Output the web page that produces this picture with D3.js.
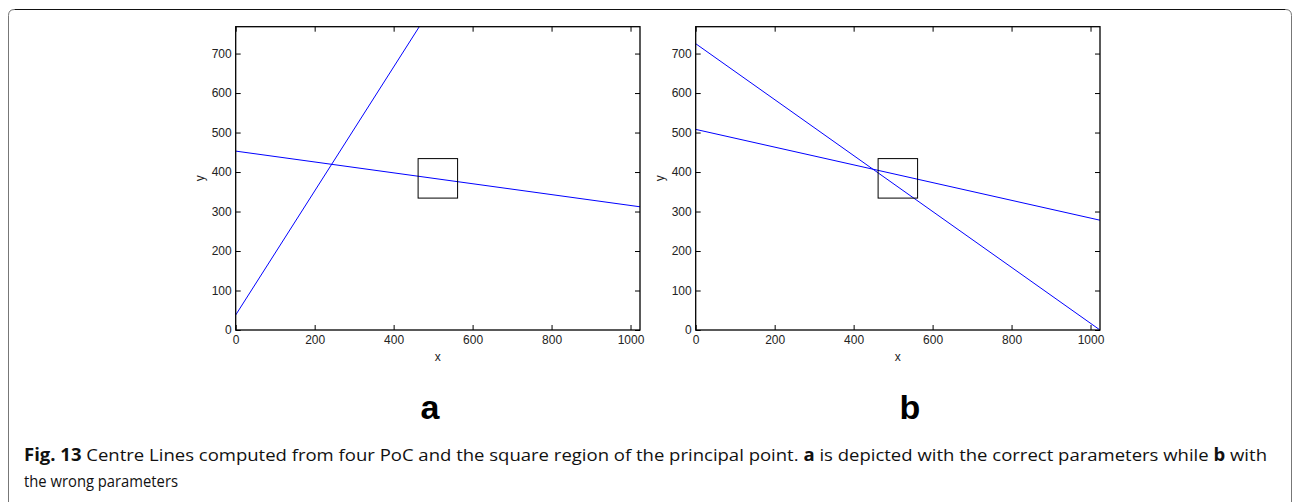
<!DOCTYPE html>
<html>
<head>
<meta charset="utf-8">
<script src="https://cdn.jsdelivr.net/npm/d3@7"></script>
<style>
  body { margin: 0; background: #fff; }
  svg { display: block; }
  .tick text { font-family: 'Liberation Sans', Arial, sans-serif; font-size: 12px; fill: #222; }
</style>
</head>
<body>
<svg id="fig" width="1294" height="502"></svg>
<script>
// image extent and ticks
const xDomain = [0, 1024];
const yDomain = [0, 768];
const xTicks = [0, 200, 400, 600, 800, 1000];
const yTicks = [0, 100, 200, 300, 400, 500, 600, 700];

// centre lines, as [x, y] end points in image pixels
const linesA = [
  [[0, 38], [465, 768]],
  [[0, 453], [1024, 312]]
];
const linesB = [
  [[0, 725], [1024, 0]],
  [[0, 508], [1024, 278]]
];
// square region of principal point: [x0, y0, x1, y1]
const square = [462, 334, 562, 434];

const panelLabels = ['a', 'b'];

const svg = d3.select('#fig');
const W = 1294, H = 502;

// figure frame with rounded top corners
const r = 6, fx0 = 8.5, fx1 = 1291.5, fy0 = 9.5;
svg.append('path')
  .attr('d', `M${fx0},${H} L${fx0},${fy0 + r} Q${fx0},${fy0} ${fx0 + r},${fy0}`)
  .attr('fill', 'none').attr('stroke', '#777').attr('stroke-width', 1);
svg.append('path')
  .attr('d', `M${fx1},${H} L${fx1},${fy0 + r} Q${fx1},${fy0} ${fx1 - r},${fy0}`)
  .attr('fill', 'none').attr('stroke', '#777').attr('stroke-width', 1);
svg.append('line')
  .attr('x1', fx0 + r).attr('x2', fx1 - r).attr('y1', fy0).attr('y2', fy0)
  .attr('stroke', '#111').attr('stroke-width', 1.2);

const panels = [
  { left: 235.7, lines: linesA, label: panelLabels[0], labelX: 430 },
  { left: 695.7, lines: linesB, label: panelLabels[1], labelX: 910 }
];
const plotTop = 26.7, plotBottom = 330, pw = 404.3;
const fmt = d3.format('d');

panels.forEach(p => {
  const x = d3.scaleLinear().domain(xDomain).range([p.left, p.left + pw]);
  const y = d3.scaleLinear().domain(yDomain).range([plotBottom, plotTop]);
  const g = svg.append('g');

  const clipId = 'clip' + p.label;
  svg.append('clipPath').attr('id', clipId)
    .append('rect').attr('x', x(0)).attr('y', plotTop).attr('width', pw).attr('height', plotBottom - plotTop);

  const plot = g.append('g').attr('clip-path', `url(#${clipId})`);
  const line = d3.line().x(d => x(d[0])).y(d => y(d[1]));
  plot.selectAll('path.cl').data(p.lines).join('path')
    .attr('class', 'cl')
    .attr('d', line)
    .attr('fill', 'none').attr('stroke', '#0000ff').attr('stroke-width', 1);

  plot.append('rect')
    .attr('x', x(square[0])).attr('y', y(square[3]))
    .attr('width', x(square[2]) - x(square[0]))
    .attr('height', y(square[1]) - y(square[3]))
    .attr('fill', 'none').attr('stroke', '#000').attr('stroke-width', 1);

  const tk = 5;
  const styleAxis = a => {
    a.select('.domain').remove();
    a.selectAll('.tick line').attr('stroke', '#000');
  };
  g.append('g').attr('transform', `translate(0,${plotBottom})`)
    .call(d3.axisBottom(x).tickValues(xTicks).tickFormat(fmt).tickSizeInner(-tk).tickSizeOuter(0).tickPadding(5))
    .call(styleAxis);
  g.append('g').attr('transform', `translate(0,${plotTop})`)
    .call(d3.axisTop(x).tickValues(xTicks).tickSizeInner(-tk).tickSizeOuter(0).tickFormat(''))
    .call(styleAxis);
  g.append('g').attr('transform', `translate(${x(0)},0)`)
    .call(d3.axisLeft(y).tickValues(yTicks).tickFormat(fmt).tickSizeInner(-tk).tickSizeOuter(0).tickPadding(4))
    .call(styleAxis);
  g.append('g').attr('transform', `translate(${x(1024)},0)`)
    .call(d3.axisRight(y).tickValues(yTicks).tickSizeInner(-tk).tickSizeOuter(0).tickFormat(''))
    .call(styleAxis);

  g.append('rect')
    .attr('x', x(0)).attr('y', plotTop).attr('width', pw).attr('height', plotBottom - plotTop)
    .attr('fill', 'none').attr('stroke', '#000').attr('stroke-width', 1.3);

  g.append('text')
    .attr('x', x(512)).attr('y', 361)
    .attr('text-anchor', 'middle')
    .style('font-family', "'Liberation Sans', Arial, sans-serif").style('font-size', '12px').style('fill', '#222')
    .text('x');
  g.append('text')
    .attr('transform', `translate(${x(0) - 32},${y(384)}) rotate(-90)`)
    .attr('text-anchor', 'middle')
    .style('font-family', "'Liberation Sans', Arial, sans-serif").style('font-size', '12px').style('fill', '#222')
    .text('y');

  g.append('text')
    .attr('x', p.labelX).attr('y', 419)
    .attr('text-anchor', 'middle')
    .style('font-family', "'Liberation Sans', Arial, sans-serif").style('font-size', '34px').style('font-weight', 'bold')
    .text(p.label);
});

// caption
const cap = svg.append('g')
  .style('font-family', "'Open Sans', 'Noto Sans', sans-serif").style('font-size', '17px').style('fill', '#111');
const l1 = cap.append('text').attr('x', 24).attr('y', 461)
  .attr('textLength', 1243).attr('lengthAdjust', 'spacingAndGlyphs');
l1.append('tspan').style('font-weight', 'bold').text('Fig. 13');
l1.append('tspan').text(' Centre Lines computed from four PoC and the square region of the principal point. ');
l1.append('tspan').style('font-weight', 'bold').text('a');
l1.append('tspan').text(' is depicted with the correct parameters while ');
l1.append('tspan').style('font-weight', 'bold').text('b');
l1.append('tspan').text(' with');
cap.append('text').attr('x', 24).attr('y', 487)
  .attr('textLength', 154).attr('lengthAdjust', 'spacingAndGlyphs')
  .text('the wrong parameters');
</script>
</body>
</html>
